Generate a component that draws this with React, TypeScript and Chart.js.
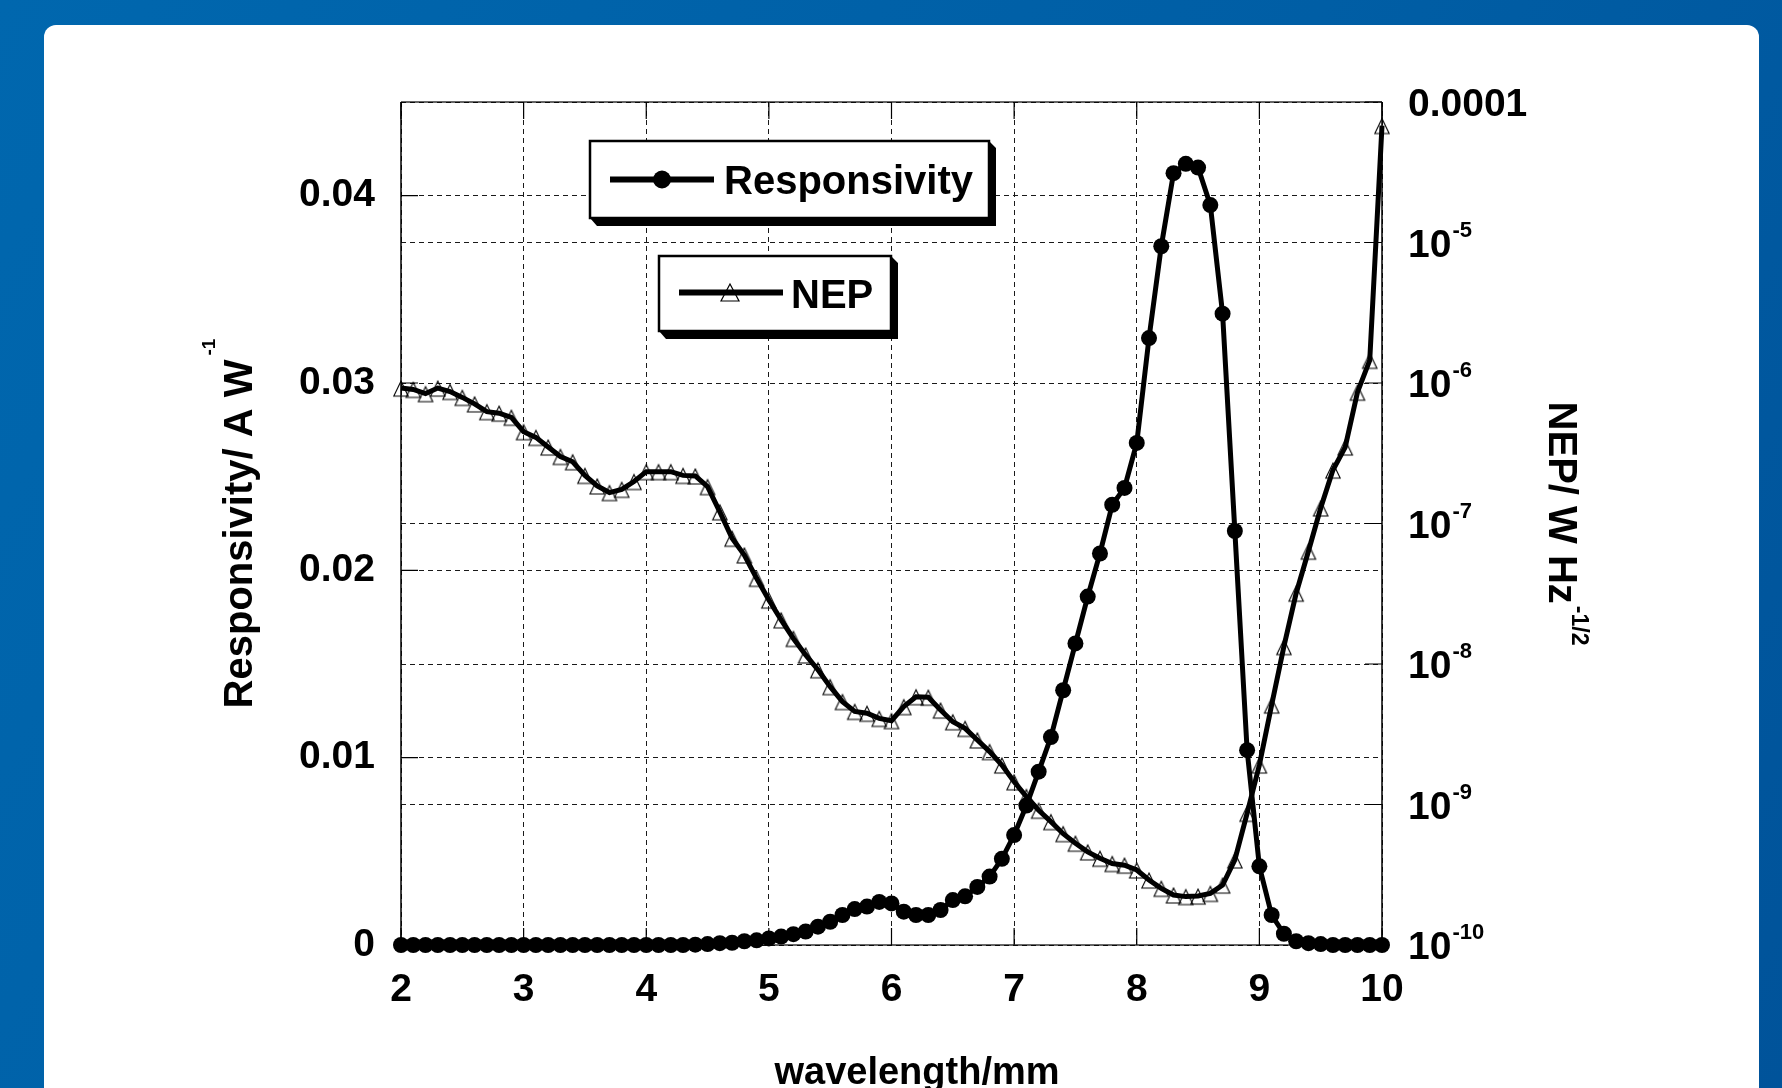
import React, { useEffect, useRef } from 'react';
import { Chart, registerables } from 'chart.js';

Chart.register(...registerables);

// ---------------- data ----------------
const wavelengths = [
  2.0, 2.1, 2.2, 2.3, 2.4, 2.5, 2.6, 2.7, 2.8, 2.9,
  3.0, 3.1, 3.2, 3.3, 3.4, 3.5, 3.6, 3.7, 3.8, 3.9,
  4.0, 4.1, 4.2, 4.3, 4.4, 4.5, 4.6, 4.7, 4.8, 4.9,
  5.0, 5.1, 5.2, 5.3, 5.4, 5.5, 5.6, 5.7, 5.8, 5.9,
  6.0, 6.1, 6.2, 6.3, 6.4, 6.5, 6.6, 6.7, 6.8, 6.9,
  7.0, 7.1, 7.2, 7.3, 7.4, 7.5, 7.6, 7.7, 7.8, 7.9,
  8.0, 8.1, 8.2, 8.3, 8.4, 8.5, 8.6, 8.7, 8.8, 8.9,
  9.0, 9.1, 9.2, 9.3, 9.4, 9.5, 9.6, 9.7, 9.8, 9.9,
  10.0,
];

const responsivity = [
  0, 0, 0, 0, 0, 0, 0, 0, 0, 0,
  0, 0, 0, 0, 0, 0, 0, 0, 0, 0,
  0, 0, 0, 0, 0.00002, 0.00005, 0.0001, 0.00012, 0.0002, 0.00025,
  0.00035, 0.00045, 0.00058, 0.00072, 0.00098, 0.00124, 0.0016, 0.00192, 0.00205, 0.0023,
  0.00222, 0.00178, 0.0016, 0.0016, 0.00187, 0.0024, 0.0026, 0.0031, 0.00365, 0.0046,
  0.00587, 0.00744, 0.00925, 0.0111, 0.0136, 0.0161, 0.0186, 0.0209, 0.0235, 0.0244,
  0.0268, 0.0324, 0.0373, 0.0412, 0.0417, 0.0415, 0.0395, 0.0337, 0.0221, 0.0104,
  0.0042, 0.0016, 0.0006, 0.0002, 0.0001, 0.00005, 0, 0, 0, 0,
  0,
];

const nep = [
  9.2e-7, 9.0e-7, 8.4e-7, 9.2e-7, 8.7e-7, 7.9e-7, 7.1e-7, 6.25e-7, 6.1e-7, 5.7e-7,
  4.5e-7, 4.1e-7, 3.5e-7, 3.0e-7, 2.75e-7, 2.2e-7, 1.85e-7, 1.66e-7, 1.75e-7, 1.99e-7,
  2.34e-7, 2.34e-7, 2.34e-7, 2.2e-7, 2.18e-7, 1.83e-7, 1.21e-7, 7.85e-8, 5.97e-8, 4.07e-8,
  2.85e-8, 2.06e-8, 1.52e-8, 1.16e-8, 9.1e-9, 6.9e-9, 5.4e-9, 4.6e-9, 4.46e-9, 4.1e-9,
  3.95e-9, 4.97e-9, 5.85e-9, 5.8e-9, 4.7e-9, 3.88e-9, 3.48e-9, 2.88e-9, 2.38e-9, 1.91e-9,
  1.45e-9, 1.14e-9, 9.1e-10, 7.55e-10, 6.2e-10, 5.3e-10, 4.6e-10, 4.14e-10, 3.8e-10, 3.7e-10,
  3.42e-10, 2.9e-10, 2.53e-10, 2.27e-10, 2.21e-10, 2.23e-10, 2.33e-10, 2.67e-10, 4.03e-10, 8.65e-10,
  1.91e-9, 5.1e-9, 1.33e-8, 3.19e-8, 6.35e-8, 1.29e-7, 2.4e-7, 3.5e-7, 8.6e-7, 1.45e-6,
  6.8e-5,
];

const xTicks = [2, 3, 4, 5, 6, 7, 8, 9, 10];
const respTicks = [0, 0.01, 0.02, 0.03, 0.04];
const nepExponents = [-10, -9, -8, -7, -6, -5, -4];

const seriesNames = ['Responsivity', 'NEP'];
const xTitle = 'wavelength/mm';
const yTitleMain = 'Responsivity/ A W';
const yTitleSup = '-1';
const y2TitleMain = 'NEP/ W Hz';
const y2TitleSup = '-1/2';

// ---------------- styling helpers ----------------
const FAMILY = '"Liberation Sans", Arial, Helvetica, sans-serif';
const bold = (px: number) => `bold ${px}px ${FAMILY}`;

function drawTriangle(ctx: CanvasRenderingContext2D, cx: number, apexY: number, halfW: number, h: number) {
  ctx.beginPath();
  ctx.moveTo(cx, apexY);
  ctx.lineTo(cx + halfW, apexY + h);
  ctx.lineTo(cx - halfW, apexY + h);
  ctx.closePath();
}

// hollow triangle marker, drawn slightly below its anchor like the reference
function makeTriangleMarker(): HTMLCanvasElement {
  const c = document.createElement('canvas');
  c.width = 20;
  c.height = 20;
  const g = c.getContext('2d')!;
  g.strokeStyle = '#000';
  g.lineWidth = 1.1;
  drawTriangle(g, 10, 3, 7.2, 15);
  g.stroke();
  return c;
}

function drawLegendBox(ctx: CanvasRenderingContext2D, x: number, y: number, w: number, h: number) {
  const d = 7;
  ctx.fillStyle = '#000';
  ctx.beginPath();
  ctx.moveTo(x, y + h);
  ctx.lineTo(x + d, y + h + d + 1);
  ctx.lineTo(x + w + d, y + h + d + 1);
  ctx.lineTo(x + w + d, y + d);
  ctx.lineTo(x + w, y);
  ctx.lineTo(x + w, y + h);
  ctx.closePath();
  ctx.fill();
  ctx.fillStyle = '#fff';
  ctx.fillRect(x, y, w, h);
  ctx.strokeStyle = '#000';
  ctx.lineWidth = 2.5;
  ctx.strokeRect(x, y, w, h);
}

const decorPlugin = {
  id: 'decor',
  afterDraw(chart: any) {
    const ctx: CanvasRenderingContext2D = chart.ctx;
    const { left, right, top, bottom } = chart.chartArea;
    const xs = chart.scales.x;
    const ys = chart.scales.y;
    const y2 = chart.scales.y2;
    ctx.save();

    // inward tick marks
    ctx.strokeStyle = '#000';
    ctx.lineWidth = 1.2;
    ctx.setLineDash([]);
    ctx.beginPath();
    respTicks.forEach((v) => {
      const p = ys.getPixelForValue(v);
      ctx.moveTo(left, p);
      ctx.lineTo(left + 17, p);
    });
    nepExponents.forEach((e) => {
      const p = y2.getPixelForValue(Math.pow(10, e));
      ctx.moveTo(right, p);
      ctx.lineTo(right - 17, p);
    });
    xTicks.forEach((v) => {
      const p = xs.getPixelForValue(v);
      ctx.moveTo(p, bottom);
      ctx.lineTo(p, bottom - 17);
      ctx.moveTo(p, top);
      ctx.lineTo(p, top + 17);
    });
    ctx.stroke();

    // frame
    ctx.strokeStyle = 'rgba(0,0,0,0.6)';
    ctx.lineWidth = 2;
    ctx.beginPath();
    ctx.moveTo(left, top);
    ctx.lineTo(right, top);
    ctx.moveTo(left, bottom);
    ctx.lineTo(right, bottom);
    ctx.stroke();
    ctx.strokeStyle = '#000';
    ctx.lineWidth = 1.5;
    ctx.beginPath();
    ctx.moveTo(left, top);
    ctx.lineTo(left, bottom);
    ctx.moveTo(right, top);
    ctx.lineTo(right, bottom);
    ctx.stroke();

    // right axis labels (log decades)
    ctx.fillStyle = '#000';
    ctx.textBaseline = 'alphabetic';
    ctx.textAlign = 'left';
    const lx = right + 26;
    nepExponents.forEach((e) => {
      const p = y2.getPixelForValue(Math.pow(10, e));
      const base = p + 14;
      if (e === -4) {
        ctx.font = bold(39);
        ctx.fillText('0.0001', lx, base);
      } else {
        ctx.font = bold(39);
        ctx.fillText('10', lx, base);
        const w = ctx.measureText('10').width;
        ctx.font = bold(22);
        ctx.fillText(String(e), lx + w + 1, base - 20);
      }
    });

    // left axis title (rotated -90)
    {
      ctx.font = bold(40);
      const wMain = ctx.measureText(yTitleMain).width;
      ctx.font = bold(19);
      const wSup = ctx.measureText(yTitleSup).width;
      const total = wMain + 4 + wSup;
      const cy = (top + bottom) / 2;
      ctx.save();
      ctx.translate(252, cy);
      ctx.rotate(-Math.PI / 2);
      ctx.font = bold(40);
      ctx.fillText(yTitleMain, -total / 2, 0);
      ctx.font = bold(19);
      ctx.fillText(yTitleSup, -total / 2 + wMain + 4, -37);
      ctx.restore();
    }

    // right axis title (rotated +90)
    {
      ctx.font = bold(40);
      const wMain = ctx.measureText(y2TitleMain).width;
      ctx.font = bold(23);
      const wSup = ctx.measureText(y2TitleSup).width;
      const total = wMain + 2 + wSup;
      const cy = (top + bottom) / 2;
      ctx.save();
      ctx.translate(1549, cy);
      ctx.rotate(Math.PI / 2);
      ctx.font = bold(40);
      ctx.fillText(y2TitleMain, -total / 2, 0);
      ctx.font = bold(23);
      ctx.fillText(y2TitleSup, -total / 2 + wMain + 2, -23);
      ctx.restore();
    }

    // x axis title
    ctx.font = bold(38);
    ctx.textAlign = 'center';
    ctx.fillText(xTitle, 917, 1084);
    ctx.textAlign = 'left';

    // legend: Responsivity
    drawLegendBox(ctx, 590, 141, 399, 77);
    ctx.strokeStyle = '#000';
    ctx.lineWidth = 6;
    ctx.beginPath();
    ctx.moveTo(610, 179.5);
    ctx.lineTo(714, 179.5);
    ctx.stroke();
    ctx.fillStyle = '#000';
    ctx.beginPath();
    ctx.arc(662, 179.5, 9, 0, Math.PI * 2);
    ctx.fill();
    ctx.font = bold(40);
    ctx.fillText(seriesNames[0], 724, 194);

    // legend: NEP
    drawLegendBox(ctx, 659, 256, 232, 75);
    ctx.strokeStyle = '#000';
    ctx.lineWidth = 6;
    ctx.beginPath();
    ctx.moveTo(679, 292.5);
    ctx.lineTo(783, 292.5);
    ctx.stroke();
    ctx.lineWidth = 1.2;
    drawTriangle(ctx, 730, 284, 9, 17);
    ctx.stroke();
    ctx.fillStyle = '#000';
    ctx.font = bold(40);
    ctx.fillText(seriesNames[1], 791, 308);

    ctx.restore();
  },
};

export default function App() {
  const canvasRef = useRef<HTMLCanvasElement | null>(null);

  useEffect(() => {
    const canvas = canvasRef.current;
    if (!canvas) return;

    const gridOpts = { color: '#1a1a1a', lineWidth: 1, drawTicks: false };
    const borderOpts = { display: false, dash: [5, 4] };
    const tickFont = { family: FAMILY, size: 39, weight: 'bold' as const };
    const triMarker = makeTriangleMarker();

    const chart = new Chart(canvas, {
      type: 'line',
      data: {
        datasets: [
          {
            label: seriesNames[0],
            data: wavelengths.map((x, i) => ({ x, y: responsivity[i] })),
            yAxisID: 'y',
            borderColor: '#000',
            borderWidth: 5,
            backgroundColor: '#000',
            pointStyle: 'circle',
            pointRadius: 8,
            pointBackgroundColor: '#000',
            pointBorderColor: '#000',
            pointBorderWidth: 0,
            tension: 0,
            fill: false,
            clip: false as any,
          },
          {
            label: seriesNames[1],
            data: wavelengths.map((x, i) => ({ x, y: nep[i] })),
            yAxisID: 'y2',
            borderColor: '#000',
            borderWidth: 5,
            backgroundColor: 'rgba(0,0,0,0)',
            pointStyle: triMarker as any,
            pointRadius: 8,
            pointBackgroundColor: 'rgba(255,255,255,0)',
            pointBorderColor: '#000',
            pointBorderWidth: 1.1,
            tension: 0,
            fill: false,
            clip: false as any,
          },
        ],
      },
      options: {
        animation: false,
        responsive: false,
        devicePixelRatio: 1,
        layout: { padding: { top: 102, left: 0, right: 0, bottom: 0 } },
        plugins: {
          legend: { display: false },
          tooltip: { enabled: false },
        },
        scales: {
          x: {
            type: 'linear',
            position: 'bottom',
            min: 2,
            max: 10,
            afterBuildTicks: (s: any) => {
              s.ticks = xTicks.map((v) => ({ value: v }));
            },
            afterFit: (s: any) => {
              s.height = 143;
            },
            ticks: {
              font: tickFont,
              color: '#000',
              padding: 22,
              autoSkip: false,
              maxRotation: 0,
              callback: (v: any) => String(v),
            },
            grid: gridOpts,
            border: borderOpts,
          },
          y: {
            type: 'linear',
            position: 'left',
            min: 0,
            max: 0.045,
            afterBuildTicks: (s: any) => {
              s.ticks = respTicks.map((v) => ({ value: v }));
            },
            afterFit: (s: any) => {
              s.width = 401;
            },
            ticks: {
              font: tickFont,
              color: '#000',
              padding: 26,
              autoSkip: false,
              callback: (v: any) => (Number(v) === 0 ? '0' : Number(v).toFixed(2)),
            },
            grid: gridOpts,
            border: borderOpts,
          },
          y2: {
            type: 'logarithmic',
            position: 'right',
            min: 1e-10,
            max: 1e-4,
            afterBuildTicks: (s: any) => {
              s.ticks = nepExponents.map((e) => ({ value: Math.pow(10, e) }));
            },
            afterFit: (s: any) => {
              s.width = 400;
            },
            ticks: { display: false },
            grid: gridOpts,
            border: borderOpts,
          },
        },
      },
      plugins: [decorPlugin],
    } as any);

    return () => {
      chart.destroy();
    };
  }, []);

  return (
    <div
      style={{
        position: 'fixed',
        left: 0,
        top: 0,
        width: 1782,
        height: 1088,
        overflow: 'hidden',
        background: 'linear-gradient(120deg, #0067ae 0%, #005ea5 55%, #00539a 100%)',
      }}
    >
      <div
        style={{
          position: 'absolute',
          left: 44,
          top: 25,
          width: 1715,
          height: 1120,
          background: '#fff',
          borderRadius: 12,
        }}
      />
      <canvas
        ref={canvasRef}
        width={1782}
        height={1088}
        style={{ position: 'absolute', left: 0, top: 0, width: 1782, height: 1088 }}
      />
    </div>
  );
}
